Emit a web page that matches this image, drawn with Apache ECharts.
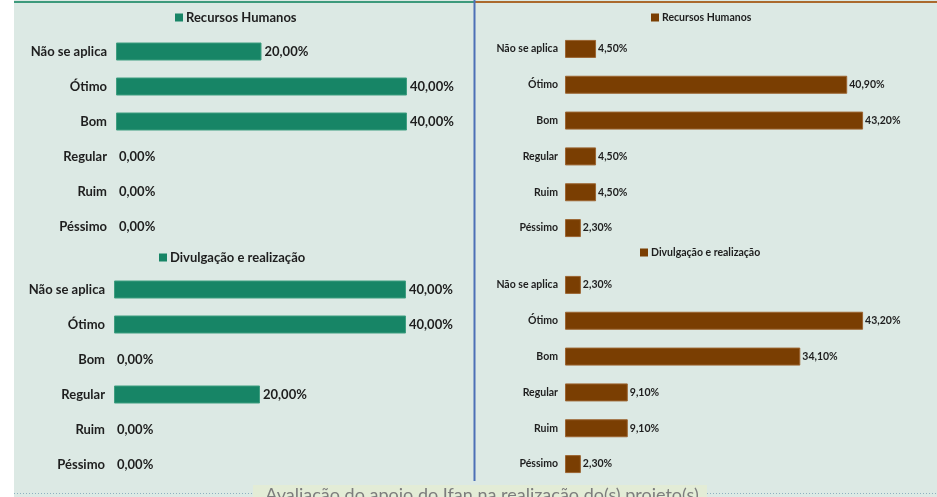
<!DOCTYPE html>
<html>
<head>
<meta charset="utf-8">
<script src="https://cdn.jsdelivr.net/npm/echarts@6/dist/echarts.min.js"></script>
<style>
html,body{margin:0;padding:0;background:#ffffff;}
#c{width:937px;height:497px;}
</style>
</head>
<body>
<div id="c"></div>
<script>
const categories = ['Não se aplica', 'Ótimo', 'Bom', 'Regular', 'Ruim', 'Péssimo'];
const leftRH = [20, 40, 40, 0, 0, 0];
const leftDiv = [40, 40, 0, 20, 0, 0];
const rightRH = [4.5, 40.9, 43.2, 4.5, 4.5, 2.3];
const rightDiv = [2.3, 43.2, 34.1, 9.1, 9.1, 2.3];
const nameRH = 'Recursos Humanos';
const nameDiv = 'Divulgação e realização';
const footerTitle = 'Avaliação do apoio do Ifan na realização do(s) projeto(s)';

const GREEN = '#178566';
const BROWN = '#7a3e02';
const FONT = 'Lato';

function fmt(v){ return v.toFixed(2).replace('.', ',') + '%'; }

const chart = echarts.init(document.getElementById('c'), null, {renderer:'canvas'});

const grids = [
  {left:116, top:34, width:291, height:210},
  {left:114, top:272, width:292, height:210},
  {left:565, top:31, width:345, height:215},
  {left:565, top:267, width:345, height:215}
];
const maxes = [40, 40, 50, 50];
const fsize = [13, 13, 10.5, 10.5];
const margins = [9, 9, 7, 7];

const xAxis = grids.map((g,i)=>({gridIndex:i, type:'value', min:0, max:maxes[i], show:false}));
const yAxis = grids.map((g,i)=>({
  gridIndex:i, type:'category', data:categories, inverse:true,
  axisLine:{show:false}, axisTick:{show:false}, splitLine:{show:false},
  axisLabel:{color:'#1e1e1e', fontFamily:FONT, fontWeight:'bold', fontSize:fsize[i], margin:margins[i]}
}));

const seriesDefs = [
  {name:nameRH, data:leftRH, color:GREEN, border:'#3f9e80'},
  {name:nameDiv, data:leftDiv, color:GREEN, border:'#3f9e80'},
  {name:nameRH + '\u200b', data:rightRH, color:BROWN, border:'#9c6431'},
  {name:nameDiv + '\u200b', data:rightDiv, color:BROWN, border:'#9c6431'}
];
const series = seriesDefs.map((s,i)=>({
  type:'bar', name:s.name, xAxisIndex:i, yAxisIndex:i,
  data:s.data.map(v=>({value:v, itemStyle:{borderWidth: v>0 ? 1 : 0}})),
  barWidth:18, itemStyle:{color:s.color, borderColor:s.border},
  label:{show:true, position:'right', distance:i<2?3:2, color:'#1e1e1e', fontFamily:FONT,
         fontWeight:'bold', fontSize:fsize[i], formatter:p=>fmt(p.value)},
  silent:true, animation:false
}));

const legendPos = [
  {left:175, top:11},
  {left:159, top:251},
  {left:651, top:12},
  {left:640, top:247}
];
const legend = seriesDefs.map((s,i)=>({
  data:[s.name], left:legendPos[i].left, top:legendPos[i].top, itemWidth:8, itemHeight:8, itemGap:4,
  icon:'rect', selectedMode:false, padding:0,
  textStyle:{color:'#1e1e1e', fontFamily:FONT, fontWeight:'bold', fontSize:fsize[i], padding:[0,0,0,-2]}
}));

chart.setOption({
  backgroundColor:'#ffffff',
  animation:false,
  graphic:[
    {type:'rect', shape:{x:14, y:0, width:923, height:497}, style:{fill:'#dce9e4'}, z:-10, silent:true},
    {type:'line', shape:{x1:14, y1:2, x2:474, y2:2}, style:{stroke:'#3d9a7c', lineWidth:2}, silent:true},
    {type:'line', shape:{x1:475, y1:2, x2:937, y2:2}, style:{stroke:'#ab6a2e', lineWidth:2}, silent:true},
    {type:'line', shape:{x1:474.5, y1:0, x2:474.5, y2:481}, style:{stroke:'#4d70b6', lineWidth:2}, silent:true},
    {type:'line', shape:{x1:14, y1:493.5, x2:253, y2:493.5}, style:{stroke:'#8fb0c0', lineWidth:1, lineDash:[1,2]}, silent:true},
    {type:'line', shape:{x1:707, y1:493.5, x2:937, y2:493.5}, style:{stroke:'#8fb0c0', lineWidth:1, lineDash:[1,2]}, silent:true},
    {type:'rect', shape:{x:253, y:485, width:454, height:14}, style:{fill:'#e3ecd6'}, silent:true},
    {type:'text', x:482, y:486, style:{text:footerTitle, fill:'#7d7d7d', font:'18px Lato', textAlign:'center', textVerticalAlign:'top'}, silent:true}
  ],
  grid:grids,
  xAxis:xAxis,
  yAxis:yAxis,
  legend:legend,
  series:series
});
</script>
</body>
</html>
